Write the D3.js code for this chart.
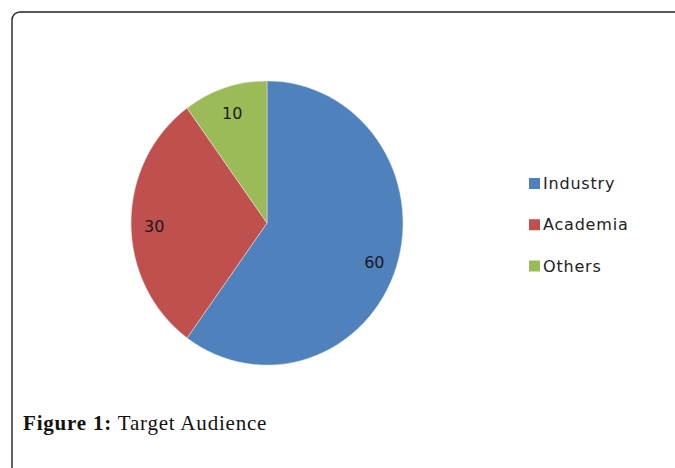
<!DOCTYPE html>
<html>
<head>
<meta charset="utf-8">
<script src="https://cdn.jsdelivr.net/npm/d3@7"></script>
<style>
  html, body { margin: 0; padding: 0; background: #fff; }
  svg { display: block; }
</style>
</head>
<body>
<svg id="chart" width="675" height="468"></svg>
<script>
const categories = ["Industry", "Academia", "Others"];
const values = [60, 30, 10];
const colors = ["#4F81BD", "#C0504D", "#9BBB59"];
const captionBold = "Figure 1:";
const captionText = " Target Audience";

const svg = d3.select("#chart");

// frame
svg.append("rect")
  .attr("x", 12).attr("y", 12)
  .attr("width", 720).attr("height", 520)
  .attr("rx", 8).attr("ry", 8)
  .attr("fill", "#fff")
  .attr("stroke", "#222").attr("stroke-width", 1.4);

const cx = 267, cy = 223, r = 136, sy = 1.045;
const pie = d3.pie().sort(null).value(d => d)(values);
const arc = d3.arc().innerRadius(0).outerRadius(r);
const labelArc = d3.arc().innerRadius(r * 0.83).outerRadius(r * 0.83);

const g = svg.append("g").attr("transform", `translate(${cx},${cy}) scale(1,${sy})`);
g.selectAll("path").data(pie).enter().append("path")
  .attr("d", arc)
  .attr("fill", (d, i) => colors[i])
  .attr("stroke", "#e8e8e8").attr("stroke-width", 0.5);

const lg = svg.append("g").attr("transform", `translate(${cx},${cy})`);
lg.selectAll("text").data(pie).enter().append("text")
  .attr("x", d => labelArc.centroid(d)[0])
  .attr("y", d => labelArc.centroid(d)[1] * sy + 3)
  .attr("text-anchor", "middle")
  .attr("dominant-baseline", "central")
  .attr("font-family", "DejaVu Sans")
  .attr("font-size", 16)
  .attr("fill", "#1a1a1a")
  .text(d => d.data);

// legend
const legendY = d3.scalePoint().domain(categories).range([183.5, 266]);
const leg = svg.append("g");
const items = leg.selectAll("g").data(categories).enter().append("g")
  .attr("transform", d => `translate(529,${legendY(d)})`);
items.append("rect")
  .attr("x", 0).attr("y", -5.5).attr("width", 11).attr("height", 11)
  .attr("fill", (d, i) => colors[i]);
items.append("text")
  .attr("x", 14).attr("y", 5.5)
  .attr("font-family", "DejaVu Sans")
  .attr("font-size", 16)
  .attr("letter-spacing", 0.8)
  .attr("fill", "#222")
  .text(d => d);

// caption
const cap = svg.append("text")
  .attr("x", 23).attr("y", 430)
  .attr("font-family", "Liberation Serif")
  .attr("font-size", 21)
  .attr("letter-spacing", 0.8)
  .attr("fill", "#111");
cap.append("tspan").attr("font-weight", "bold").text(captionBold);
cap.append("tspan").text(captionText);
</script>
</body>
</html>
